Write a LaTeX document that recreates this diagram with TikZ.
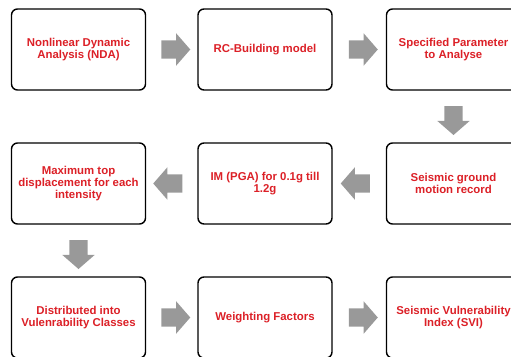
\documentclass[tikz,border=0pt]{standalone}
\usepackage{fontspec}
\setmainfont{Liberation Sans}
\usepackage{xcolor}
\usepackage{tikz}
\usetikzlibrary{shapes.arrows, positioning, calc}

\definecolor{txtred}{RGB}{220,32,39}
\definecolor{arrgray}{RGB}{153,153,153}

\begin{document}
\begin{tikzpicture}[
    x=1pt, y=1pt,
    font=\fontsize{11.4}{12}\selectfont\bfseries,
    stepbox/.style={draw=black, line width=1.4pt, rounded corners=6pt, fill=white, align=center, text=txtred, minimum width=134pt, minimum height=81pt, inner sep=2pt},
    blockarrow/.style={single arrow, fill=arrgray, draw=none, inner xsep=0pt, inner ysep=9pt, minimum width=32pt, minimum height=29pt, single arrow head extend=7pt, single arrow tip angle=98}
]
\useasboundingbox (0,0) rectangle (511,-356);

% Boxes
\node[stepbox] (nda) at (78.5,-49.5) {Nonlinear Dynamic\\Analysis (NDA)};
\node[stepbox] (rcb) at (265,-49.5) {RC-Building model};
\node[stepbox] (spec) at (453.5,-49.5) {Specified Parameter\\to Analyse};

\node[stepbox] (maxdisp) at (78.5,-183.5) {Maximum top\\displacement for each\\intensity};
\node[stepbox] (im) at (265,-183.5) {IM (PGA) for 0.1g till\\1.2g};
\node[stepbox] (record) at (453.5,-183.5) {Seismic ground\\motion record};

\node[stepbox] (classes) at (78.5,-317.5) {Distributed into\\Vulenrability Classes};
\node[stepbox] (weight) at (265,-317.5) {Weighting Factors};
\node[stepbox] (svi) at (453.5,-317.5) {Seismic Vulnerability\\Index (SVI)};

% Block arrows
\node[blockarrow] (a1) at ($(nda.east)!0.5!(rcb.west)$) {};
\node[blockarrow] (a2) at ($(rcb.east)!0.5!(spec.west)$) {};
\node[blockarrow, rotate=-90] (a3) at ($(spec.south)!0.5!(record.north)$) {};
\node[blockarrow, rotate=180] (a4) at ($(record.west)!0.5!(im.east)$) {};
\node[blockarrow, rotate=180] (a5) at ($(im.west)!0.5!(maxdisp.east)$) {};
\node[blockarrow, rotate=-90] (a6) at ($(maxdisp.south)!0.5!(classes.north)$) {};
\node[blockarrow] (a7) at ($(classes.east)!0.5!(weight.west)$) {};
\node[blockarrow] (a8) at ($(weight.east)!0.5!(svi.west)$) {};

\end{tikzpicture}
\end{document}
